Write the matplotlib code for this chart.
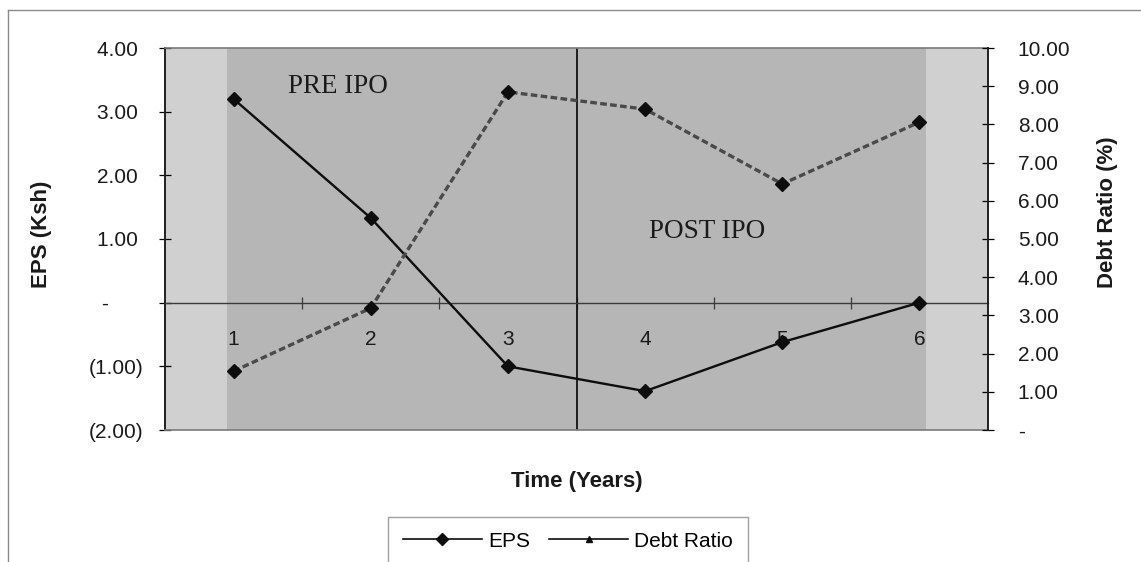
import matplotlib
matplotlib.use("Agg")
import matplotlib.pyplot as plt
from matplotlib.lines import Line2D
from matplotlib.ticker import FixedLocator, FuncFormatter

# ---- data ----
years = [1, 2, 3, 4, 5, 6]
eps = [3.20, 1.33, -1.00, -1.39, -0.62, 0.00]
debt_ratio = [1.54, 3.19, 8.85, 8.40, 6.44, 8.06]
eps_ticks = [4, 3, 2, 1, 0, -1, -2]
debt_ticks = [10, 9, 8, 7, 6, 5, 4, 3, 2, 1, 0]

plt.rcParams['font.family'] = ['Liberation Sans', 'DejaVu Sans']

W, H = 1141, 562
fig = plt.figure(figsize=(W / 100, H / 100), dpi=100)
fig.patch.set_facecolor('white')

L, R, T, B = 165, 988, 48, 430
ax = fig.add_axes([L / W, (H - B) / H, (R - L) / W, (B - T) / H])
ax.set_facecolor('#d0d0d0')
ax.set_xlim(0.5, 6.5)
ax.set_ylim(-2, 4)

# textured darker central band
ax.axvspan(0.95, 6.05, color='#b6b6b6', zorder=0, lw=0)

# spines
ax.spines['bottom'].set_position(('data', 0))
ax.spines['bottom'].set_color('#3a3a3a')
ax.spines['bottom'].set_linewidth(1.0)
ax.spines['top'].set_color('#7a7a7a')
ax.spines['top'].set_linewidth(1.2)
ax.spines['left'].set_color('#202020')
ax.spines['left'].set_linewidth(1.4)
ax.spines['right'].set_visible(False)
ax.axhline(-2, color='#7a7a7a', lw=1.2, clip_on=False, zorder=3)

# x ticks: category labels below zero line, tick marks at boundaries
ax.xaxis.set_major_locator(FixedLocator(years))
ax.set_xticklabels([str(y) for y in years])
ax.xaxis.set_minor_locator(FixedLocator([1.5, 2.5, 3.5, 4.5, 5.5]))
ax.tick_params(axis='x', which='major', length=0, pad=20, labelsize=15, labelcolor='#1a1a1a')
ax.tick_params(axis='x', which='minor', length=9, width=0.9, direction='inout', color='#3a3a3a')

# left y axis
def eps_fmt(v, pos):
    v = round(v)
    if v == 0:
        return '-      '
    if v < 0:
        return '(%.2f)' % abs(v)
    return '%.2f ' % v

ax.yaxis.set_major_locator(FixedLocator(eps_ticks))
ax.yaxis.set_major_formatter(FuncFormatter(eps_fmt))
ax.tick_params(axis='y', length=9, width=0.9, direction='inout', pad=11, labelsize=15, labelcolor='#1a1a1a')

# vertical divider (pre / post IPO)
ax.axvline(3.5, color='#111111', lw=1.3, zorder=2)

# EPS line
ax.plot(years, eps, color='#0d0d0d', lw=1.7, marker='D', markersize=7.5,
        markerfacecolor='#0d0d0d', markeredgecolor='#0d0d0d', zorder=5, clip_on=False)

# right axis: debt ratio
ax2 = ax.twinx()
ax2.set_ylim(0, 10)
for s in ['top', 'bottom', 'left']:
    ax2.spines[s].set_visible(False)
ax2.spines['right'].set_color('#202020')
ax2.spines['right'].set_linewidth(1.4)

def dr_fmt(v, pos):
    v = round(v)
    if v == 0:
        return '-'
    return '%.2f' % v

ax2.yaxis.set_major_locator(FixedLocator(debt_ticks))
ax2.yaxis.set_major_formatter(FuncFormatter(dr_fmt))
ax2.tick_params(axis='y', length=9, width=0.9, direction='inout', pad=17, labelsize=15, labelcolor='#1a1a1a')

ax2.plot(years, debt_ratio, color='#4a4a4a', lw=2.4, linestyle=(0, (2, 1)),
         marker='D', markersize=7.5, markerfacecolor='#0d0d0d', markeredgecolor='#0d0d0d',
         zorder=5, clip_on=False)

# annotations
ax.text(1.76, 3.40, 'PRE IPO', family=['Liberation Serif', 'DejaVu Serif'], fontsize=19.5,
        ha='center', va='center', color='#1a1a1a')
ax.text(4.45, 1.11, 'POST IPO', family=['Liberation Serif', 'DejaVu Serif'], fontsize=19.5,
        ha='center', va='center', color='#1a1a1a')

# axis titles
fig.text(41 / W, 1 - 234 / H, 'EPS (Ksh)', rotation=90, ha='center', va='center',
         fontsize=16, fontweight='bold', color='#1a1a1a')
fig.text(1107 / W, 1 - 212 / H, 'Debt Ratio (%)', rotation=90, ha='center', va='center',
         fontsize=16, fontweight='bold', color='#1a1a1a')
fig.text(577 / W, 1 - 481 / H, 'Time (Years)', ha='center', va='center',
         fontsize=16, fontweight='bold', color='#1a1a1a')

# legend
handles = [
    Line2D([], [], color='#0d0d0d', lw=1.2, marker='D', markersize=6),
    Line2D([], [], color='#0d0d0d', lw=1.2, marker='^', markersize=4),
]
leg = fig.legend(handles, ['EPS', 'Debt Ratio'], loc='upper center',
                 bbox_to_anchor=(568 / W, 1 - 517 / H), ncol=2, fontsize=15,
                 frameon=True, fancybox=False, edgecolor='#888888',
                 handlelength=3.8, handletextpad=0.3, columnspacing=0.9,
                 borderpad=0.7, borderaxespad=0)
leg.get_frame().set_linewidth(1.0)

# outer frame lines
fig.add_artist(Line2D([8 / W, 1.0], [1 - 10 / H, 1 - 10 / H], color='#8a8a8a', lw=1.0))
fig.add_artist(Line2D([8 / W, 8 / W], [0, 1 - 10 / H], color='#8a8a8a', lw=1.0))

fig.savefig('out.png', dpi=100)
